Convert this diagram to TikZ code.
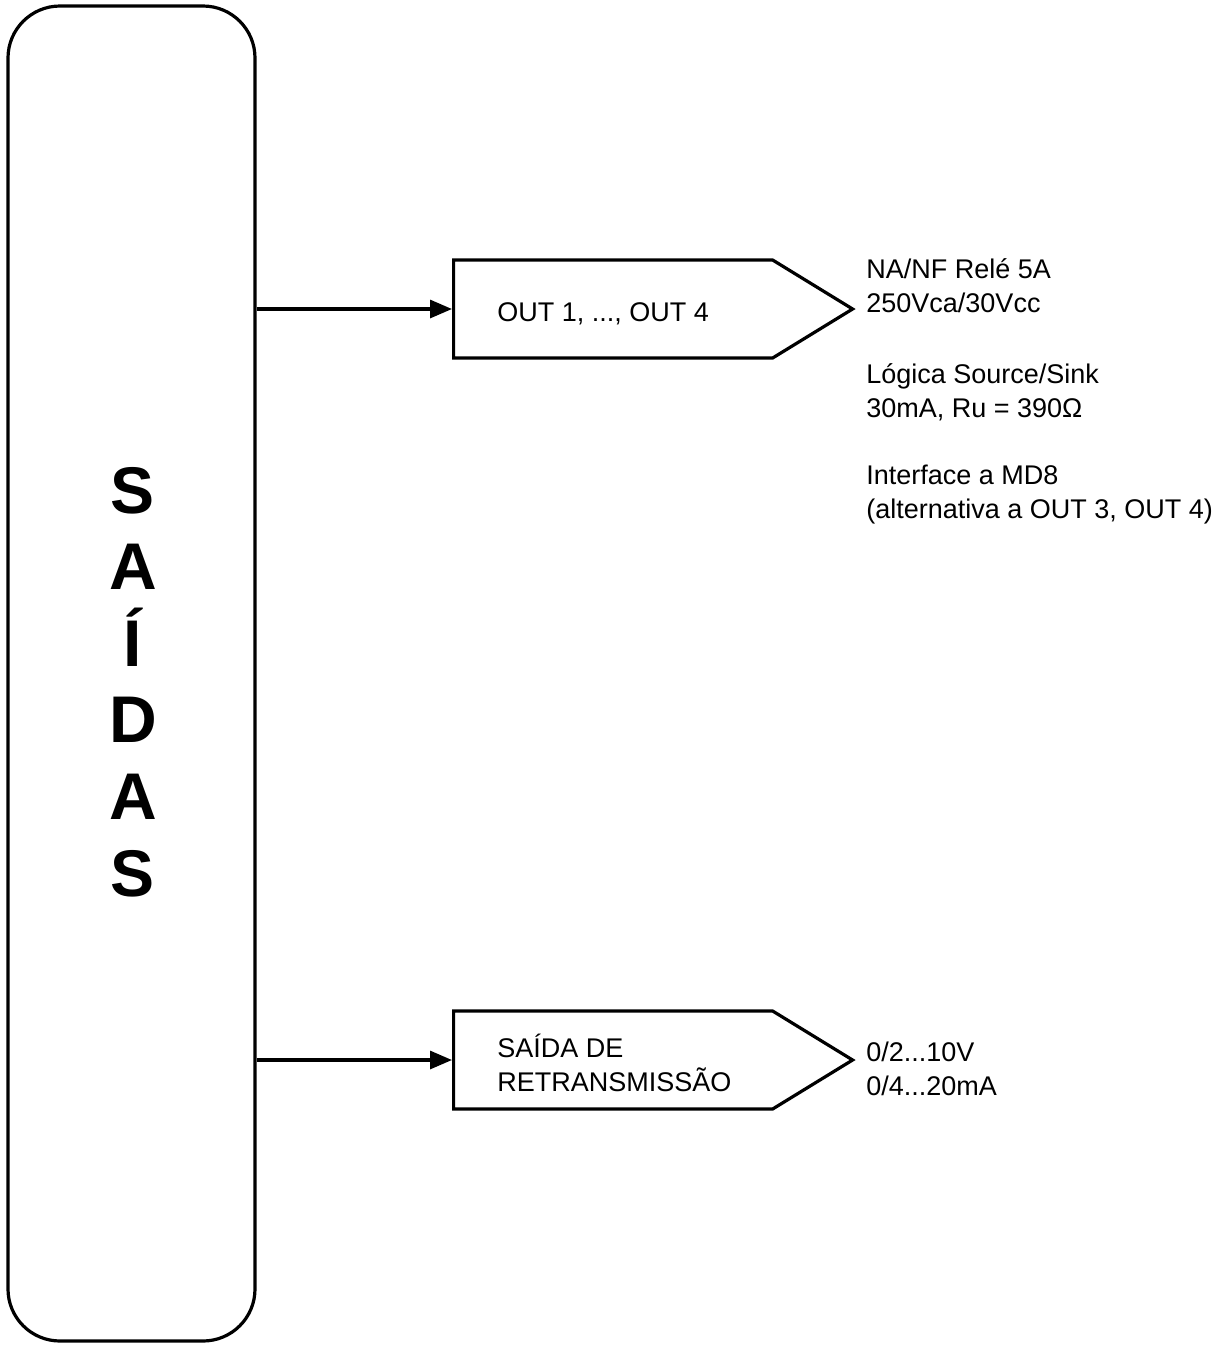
\documentclass[tikz,border=0pt]{standalone}
\usepackage{fontspec}
\setmainfont{Liberation Sans}
\usetikzlibrary{arrows.meta, shapes.symbols, positioning}

\tikzset{
  bus/.style={draw, line width=1.6pt, rounded corners=26pt, minimum width=123.5pt, minimum height=667.5pt, inner sep=0pt},
  outbox/.style={draw, line width=1.6pt, signal, signal to=east, signal pointer angle=63, minimum width=199.5pt, minimum height=49pt, inner sep=0pt, anchor=west},
  conn/.style={line width=1.6pt, -{Triangle[length=11pt, width=9pt]}},
  txt/.style={font=\fontsize{13.5}{17}\selectfont, align=left, inner sep=0pt},
  title/.style={font=\bfseries\fontsize{33}{38}\selectfont, inner sep=0pt, anchor=base}
}

\begin{document}
\begin{tikzpicture}[x=0.5pt, y=-0.5pt]

\useasboundingbox (0, 0) rectangle (1216, 1346);

% vertical block with the title
\node [bus] (bus) at (131.5, 673.5) {};
\foreach \ch [count=\i] in {S, A, Í, D, A, S}
  \node [title] (t\i) at (133, 513 + 76.6*\i - 76.6) {\ch};

% output blocks
\node [outbox] (relay) at (452, 309) {};
\node [txt, right=22.5pt of relay.west, yshift=-2.5pt] (relaytxt) {OUT 1, ..., OUT 4};
\node [outbox] (retrans) at (452, 1060) {};
\node [txt, right=22.5pt of retrans.west, yshift=-1.5pt] (retranstxt) {SAÍDA DE\\RETRANSMISSÃO};

\draw [conn] (bus.east |- relay.west) -- (relay.west);
\draw [conn] (bus.east |- retrans.west) -- (retrans.west);

% specs
\node [txt, anchor=west] (spec1) at (866, 286) {NA/NF Relé 5A\\250Vca/30Vcc};
\node [txt, anchor=west] (spec2) at (866, 392) {Lógica Source/Sink\\30mA, Ru = 390Ω};
\node [txt, anchor=west] (spec3) at (866, 495) {Interface a MD8\\(alternativa a OUT 3, OUT 4)};
\node [txt, anchor=west] (spec4) at (866, 1069) {0/2...10V\\0/4...20mA};

\end{tikzpicture}
\end{document}
